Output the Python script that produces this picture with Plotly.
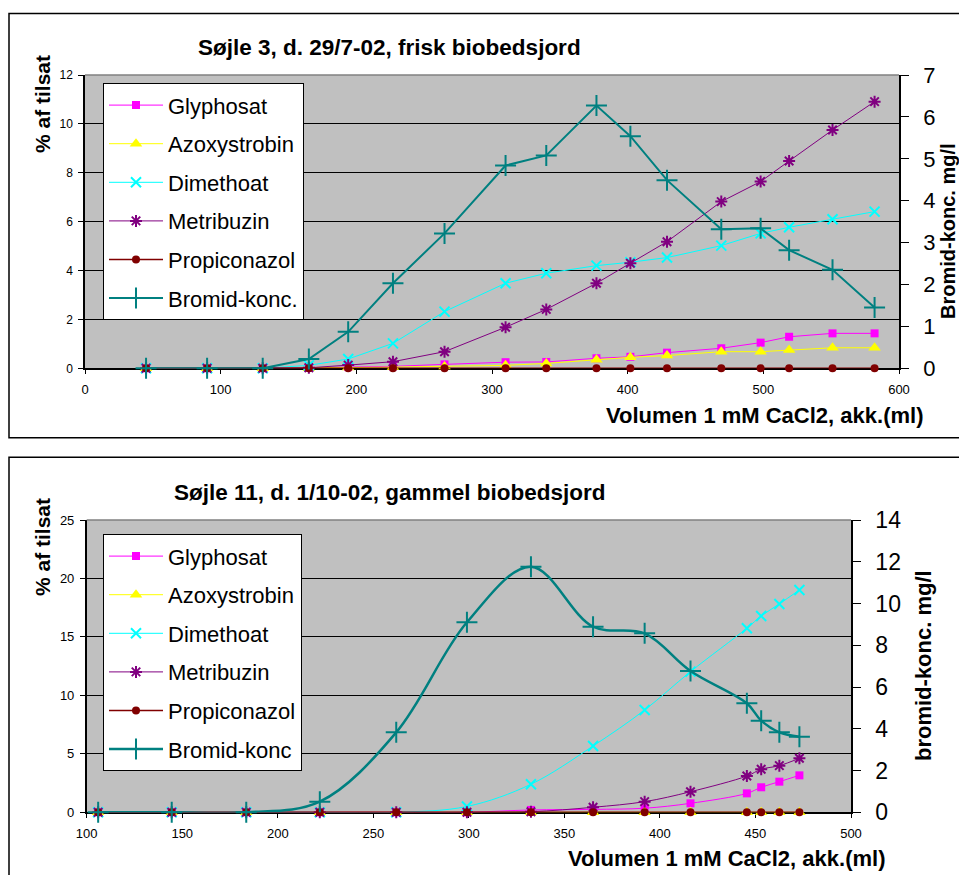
import plotly.graph_objects as go

W, H = 959, 875
FONT = "Arial, Liberation Sans, sans-serif"

# ---- Søjle 3, d. 29/7-02 (frisk biobedsjord) ----
vol_3 = [45, 90, 131, 165, 194, 227, 265, 310, 340, 377, 402, 429, 469, 498, 519, 551, 582]
glyphosat_3 = [0, 0, 0, 0.02, 0.05, 0.08, 0.16, 0.25, 0.26, 0.41, 0.47, 0.64, 0.82, 1.05, 1.29, 1.43, 1.43]
azoxystrobin_3 = [0, 0, 0, 0, 0.03, 0.05, 0.07, 0.12, 0.2, 0.35, 0.45, 0.52, 0.68, 0.68, 0.75, 0.84, 0.84]
dimethoat_3 = [0, 0, 0, 0.12, 0.38, 1.02, 2.32, 3.48, 3.89, 4.20, 4.34, 4.53, 5.02, 5.52, 5.77, 6.10, 6.41]
metribuzin_3 = [0, 0, 0, 0.02, 0.13, 0.27, 0.68, 1.68, 2.41, 3.48, 4.30, 5.18, 6.82, 7.64, 8.48, 9.75, 10.91]
propiconazol_3 = [0, 0, 0, 0, 0, 0, 0, 0, 0, 0, 0, 0, 0, 0, 0, 0, 0]
bromid_3 = [0, 0, 0, 0.22, 0.87, 2.03, 3.22, 4.84, 5.08, 6.27, 5.54, 4.49, 3.32, 3.34, 2.82, 2.35, 1.45]

# ---- Søjle 11, d. 1/10-02 (gammel biobedsjord) ----
vol_11 = [106, 144.5, 183.5, 222, 262, 299, 332.5, 365, 392, 416, 445.5, 453, 462.5, 473]
glyphosat_11 = [0, 0, 0, 0, 0, 0, 0.2, 0.25, 0.35, 0.77, 1.62, 2.14, 2.62, 3.16]
azoxystrobin_11 = [0, 0, 0, 0, 0, 0, 0, 0, 0, 0, 0, 0, 0, 0]
dimethoat_11 = [0, 0, 0, 0, 0, 0.5, 2.40, 5.67, 8.75, 12.03, 15.74, 16.79, 17.82, 19.02]
metribuzin_11 = [0, 0, 0, 0, 0, 0, 0.05, 0.43, 0.91, 1.76, 3.10, 3.68, 3.99, 4.62]
propiconazol_11 = [0, 0, 0, 0, 0, 0, 0, 0, 0, 0, 0, 0, 0, 0]
bromid_11 = [0, 0, 0, 0.51, 3.83, 9.10, 11.76, 8.89, 8.57, 6.77, 5.22, 4.39, 3.83, 3.62]

series_names = ["Glyphosat", "Azoxystrobin", "Dimethoat", "Metribuzin", "Propiconazol"]
bromid_names = ["Bromid-konc.", "Bromid-konc"]

styles = [
    dict(color="#FF00FF", symbol="square", size=8, lw=0, width=1),
    dict(color="#FFFF00", symbol="triangle-up", size=11, lw=0, width=1),
    dict(color="#00FFFF", symbol="x-thin-open", size=10, lw=2, width=1),
    dict(color="#800080", symbol="asterisk-open", size=10, lw=2, width=1),
    dict(color="#800000", symbol="circle", size=8, lw=0, width=1.5),
]
BROMID_COLOR = "#008080"


def px(x):
    return x / W


def py(y):
    return 1 - y / H


fig = go.Figure()


def add_panel(xs, series, bromid, bromid_name, xa, ya, ya2, legend, shape, bw):
    for i, (name, ys) in enumerate(zip(series_names, series)):
        st = styles[i]
        fig.add_trace(go.Scatter(
            x=xs, y=ys, name=name, mode="lines+markers",
            xaxis=xa, yaxis=ya, legend=legend, legendgroup=legend + name,
            line=dict(color=st["color"], width=st["width"], shape=shape),
            marker=dict(color=st["color"], symbol=st["symbol"], size=st["size"],
                        line=dict(color=st["color"], width=st["lw"])),
            cliponaxis=False,
        ))
    fig.add_trace(go.Scatter(
        x=xs, y=bromid, name=bromid_name, mode="lines+markers",
        xaxis=xa, yaxis=ya2, legend=legend, legendgroup=legend + "bromid",
        line=dict(color=BROMID_COLOR, width=bw, shape=shape),
        marker=dict(color=BROMID_COLOR, symbol="cross-thin-open", size=15,
                    line=dict(color=BROMID_COLOR, width=2)),
        cliponaxis=False,
    ))


add_panel(vol_3, [glyphosat_3, azoxystrobin_3, dimethoat_3, metribuzin_3, propiconazol_3],
          bromid_3, bromid_names[0], "x", "y", "y2", "legend", "linear", 2)
add_panel(vol_11, [glyphosat_11, azoxystrobin_11, dimethoat_11, metribuzin_11, propiconazol_11],
          bromid_11, bromid_names[1], "x3", "y3", "y4", "legend2", "spline", 2.5)

# plot area geometry (pixels)
T_L, T_R, T_T, T_B = 85, 899, 75, 368.3
B_L, B_R, B_T, B_B = 86.7, 851, 520, 812.3

xcommon = dict(ticks="outside", ticklen=4, tickcolor="black", showline=True,
               linecolor="black", linewidth=1.5, showgrid=False, zeroline=False,
               tickfont=dict(family=FONT, size=13, color="black"), layer="below traces",
               ticklabelstandoff=4, automargin=False)
ycommon = dict(ticks="outside", ticklen=5, tickcolor="black", showline=True,
               linecolor="black", linewidth=1.5, showgrid=True, gridcolor="black",
               gridwidth=1, zeroline=False, ticklabelstandoff=3, automargin=False)
rcommon = dict(side="right", ticks="outside", ticklen=8, tickcolor="black", showline=True,
               linecolor="black", linewidth=1.5, showgrid=False, zeroline=False,
               ticklabelstandoff=10, automargin=False)

legend_common = dict(xanchor="left", yanchor="top", bgcolor="white", bordercolor="black",
                     borderwidth=1, font=dict(family=FONT, size=22, color="black"),
                     itemwidth=54, tracegroupgap=7, traceorder="grouped")

fig.update_layout(
    width=W, height=H, margin=dict(l=0, r=0, t=0, b=0, pad=0, autoexpand=False),
    paper_bgcolor="white", plot_bgcolor="#C0C0C0",
    xaxis=dict(domain=[px(T_L), px(T_R)], anchor="y", range=[0, 600], dtick=100, **xcommon),
    yaxis=dict(domain=[py(T_B), py(T_T)], anchor="x", range=[0, 12], dtick=2,
               tickfont=dict(family=FONT, size=12, color="black"), **ycommon),
    yaxis2=dict(overlaying="y", anchor="x", range=[0, 7], dtick=1,
                tickfont=dict(family=FONT, size=22, color="black"), **rcommon),
    xaxis3=dict(domain=[px(B_L), px(B_R)], anchor="y3", range=[100, 500], dtick=50, **xcommon),
    yaxis3=dict(domain=[py(B_B), py(B_T)], anchor="x3", range=[0, 25], dtick=5,
                tickfont=dict(family=FONT, size=13, color="black"), **ycommon),
    yaxis4=dict(overlaying="y3", anchor="x3", range=[0, 14], dtick=2,
                tickfont=dict(family=FONT, size=23, color="black"), **rcommon),
    legend=dict(x=px(103), y=py(83.3), **legend_common),
    legend2=dict(x=px(103), y=py(534.3), **legend_common),
    showlegend=True,
)

# chart frames and the grey top edge of each plot area
shapes = [
    dict(type="rect", xref="paper", yref="paper", x0=px(9), x1=1.05, y0=py(437.7), y1=py(13.5),
         line=dict(color="black", width=1.5)),
    dict(type="rect", xref="paper", yref="paper", x0=px(9), x1=1.05, y0=-0.05, y1=py(457.3),
         line=dict(color="black", width=1.5)),
    dict(type="line", xref="paper", yref="paper", x0=px(T_L), x1=px(T_R), y0=py(T_T), y1=py(T_T),
         line=dict(color="#808080", width=1.5)),
    dict(type="line", xref="paper", yref="paper", x0=px(B_L), x1=px(B_R), y0=py(B_T), y1=py(B_T),
         line=dict(color="#808080", width=1.5)),
]
fig.update_layout(shapes=shapes)


def ann(text, x, y, size, xanchor="center", angle=0):
    return dict(text="<b>" + text + "</b>", x=px(x), y=py(y), xref="paper", yref="paper",
                xanchor=xanchor, yanchor="middle", showarrow=False, textangle=angle,
                font=dict(family=FONT, size=size, color="black"))


fig.update_layout(annotations=[
    ann("Søjle 3, d. 29/7-02, frisk biobedsjord", 389.5, 48, 22.5),
    ann("% af tilsat", 42, 104, 21, angle=-90),
    ann("Bromid-konc. mg/l", 948, 231, 20, angle=-90),
    ann("Volumen 1 mM CaCl2, akk.(ml)", 925, 415, 22, xanchor="right"),
    ann("Søjle 11, d. 1/10-02, gammel biobedsjord", 389, 493, 22.5),
    ann("% af tilsat", 42, 547, 21, angle=-90),
    ann("bromid-konc. mg/l", 923, 666, 22, angle=-90),
    ann("Volumen 1 mM CaCl2, akk.(ml)", 887, 858, 22, xanchor="right"),
])

fig.write_html("out.html")
